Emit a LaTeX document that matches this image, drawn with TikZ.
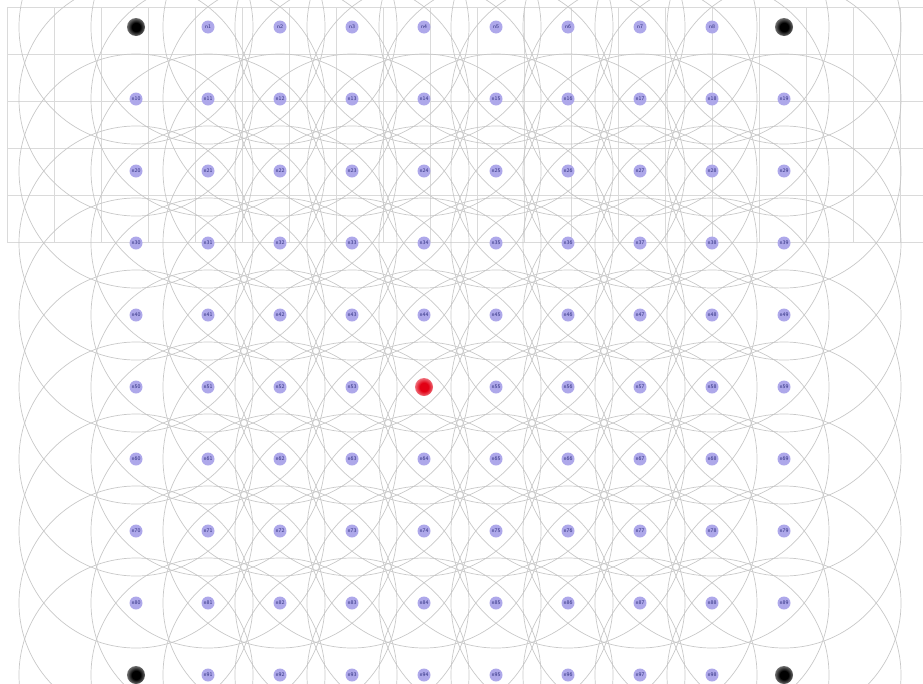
\documentclass[tikz,border=0pt]{standalone}
\usepackage{tikz}
\usetikzlibrary{backgrounds}

\definecolor{lavender}{RGB}{174,168,234}
\definecolor{labelblue}{RGB}{45,45,125}
\definecolor{rangegray}{RGB}{200,200,200}
\definecolor{gridgray}{RGB}{218,218,218}
\definecolor{sinkred}{RGB}{226,0,20}

\pgfdeclareradialshading{fuzzyblack}{\pgfpoint{0cm}{0cm}}{color(0bp)=(black); color(12bp)=(black); color(42bp)=(white); color(50bp)=(white)}
\pgfdeclareradialshading{fuzzyred}{\pgfpoint{0cm}{0cm}}{color(0bp)=(sinkred); color(12bp)=(sinkred); color(42bp)=(white); color(50bp)=(white)}

\tikzset{
  sensor/.style={circle, fill=lavender, minimum size=13pt, inner sep=0pt,
    text=labelblue, font=\sffamily\fontsize{5.5}{6}\selectfont},
  anchorpt/.style={circle, minimum size=18pt, inner sep=0pt, shading=fuzzyblack},
  sinkpt/.style={circle, minimum size=18pt, inner sep=0pt, shading=fuzzyred},
  radiorange/.style={draw=rangegray, line width=0.7pt},
  gridline/.style={draw=gridgray, line width=0.7pt}
}

\begin{document}
\begin{tikzpicture}[x=1pt, y=-1pt]
 \useasboundingbox (0,0) rectangle (923,683);
 \clip (0,0) rectangle (923,683);

 % the 10 x 10 field
 \foreach \k in {0,...,99} {
   \pgfmathtruncatemacro\c{mod(\k,10)}
   \pgfmathtruncatemacro\r{(\k-\c)/10}
   \pgfmathtruncatemacro\corner{((\c==0)||(\c==9))&&((\r==0)||(\r==9))}
   \def\kind{sensor}\def\txt{n\k}
   \ifnum\corner=1 \def\kind{anchorpt}\def\txt{}\fi
   \ifnum\k=54 \def\kind{sinkpt}\def\txt{}\fi
   \node[\kind] (n\k) at (136+72*\c, 27+72*\r) {\txt};
 }

 \begin{scope}[on background layer]
   % reference grid
   \foreach \k in {0,...,5}
     \draw[gridline] (7,7+47*\k) -- (923,7+47*\k);
   \foreach \k in {0,...,19}
     \draw[gridline] (7+47*\k,7) -- (7+47*\k,242);
   % radio ranges
   \foreach \k in {0,...,99}
     \draw[radiorange] (n\k.center) circle[radius=117];
 \end{scope}
\end{tikzpicture}
\end{document}
